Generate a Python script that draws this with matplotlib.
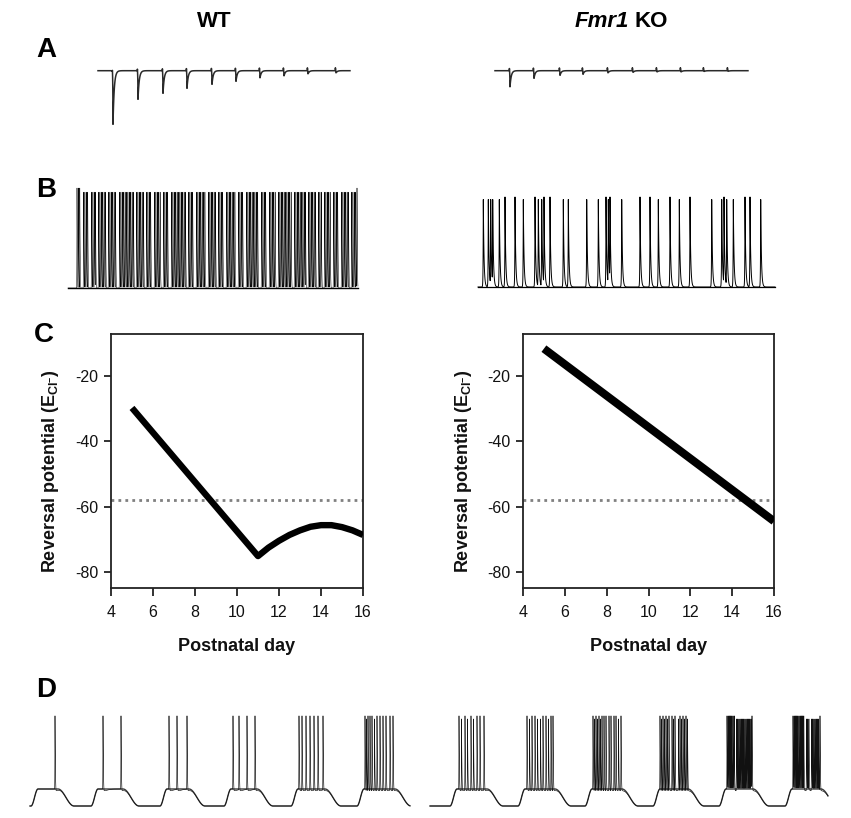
import numpy as np
import matplotlib
matplotlib.use("Agg")
import matplotlib.pyplot as plt
from matplotlib import font_manager

# ---------------- data ----------------
# Panel C: chloride reversal potential vs postnatal day
wt_days = [5, 11, 11.5, 12, 12.5, 13, 13.5, 14, 14.5, 15, 15.5, 16]
wt_ecl = [-29.7, -75.2, -72.6, -70.5, -68.7, -67.3, -66.2, -65.7, -65.7, -66.3, -67.3, -68.7]
ko_days = [5, 16]
ko_ecl = [-11.5, -64.5]
threshold_mv = -58
c_xticks = [4, 6, 8, 10, 12, 14, 16]
c_yticks = [-80, -60, -40, -20]

# Panel A: evoked currents (time s, amplitude pA)
a_wt_times = [0.15, 0.40, 0.65, 0.89, 1.14, 1.38, 1.62, 1.86, 2.10, 2.38]
a_wt_amps = [-540, -290, -230, -180, -140, -110, -75, -55, -35, -25]
a_ko_times = [0.15, 0.39, 0.65, 0.88, 1.13, 1.38, 1.62, 1.86, 2.09, 2.33]
a_ko_amps = [-165, -80, -50, -40, -25, -20, -15, -15, -10, -8]
a_wt_dur, a_ko_dur = 2.52, 2.53

# Panel B: firing (spike times, s)
b_wt_spikes = [
    0.090, 0.104, 0.118,
    0.155, 0.169, 0.183, 0.197,
    0.235, 0.249, 0.263, 0.275,
    0.305, 0.319, 0.333, 0.347, 0.361, 0.375,
    0.405, 0.419, 0.433, 0.447, 0.461, 0.475,
    0.515, 0.529, 0.543, 0.557, 0.571, 0.585, 0.599, 0.613, 0.627, 0.641, 0.655,
    0.685, 0.699, 0.713, 0.727, 0.741, 0.755,
    0.785, 0.799, 0.813, 0.827,
    0.865, 0.879, 0.893, 0.907, 0.921,
    0.955, 0.969, 0.983, 0.997,
    1.035, 1.049, 1.063, 1.077, 1.091, 1.105, 1.119, 1.133, 1.147, 1.161, 1.175,
    1.205, 1.219, 1.233, 1.247,
    1.285, 1.299, 1.313, 1.327, 1.341, 1.355, 1.369,
    1.405, 1.419, 1.433, 1.447, 1.461, 1.475,
    1.505, 1.519, 1.533, 1.547,
    1.585, 1.599, 1.613, 1.627, 1.641, 1.655, 1.669,
    1.705, 1.719, 1.733, 1.747,
    1.785, 1.799, 1.813, 1.827, 1.841, 1.855, 1.869, 1.883, 1.897,
    1.935, 1.949, 1.963, 1.977,
    2.015, 2.029, 2.043, 2.057, 2.071,
    2.105, 2.119, 2.133, 2.147, 2.161, 2.175, 2.189, 2.203, 2.217, 2.231,
    2.265, 2.279, 2.293, 2.307, 2.321, 2.335, 2.349, 2.363, 2.375,
    2.405, 2.419, 2.433, 2.447, 2.461, 2.475,
    2.505, 2.519, 2.533,
    2.565, 2.579, 2.593, 2.607, 2.621,
    2.655, 2.669, 2.683, 2.697,
    2.735, 2.749, 2.763, 2.777, 2.791, 2.805,
    2.835, 2.849, 2.863, 2.877, 2.890]
b_ko_spikes = [0.053, 0.103, 0.127, 0.147, 0.213, 0.27, 0.37, 0.453, 0.57, 0.603, 0.637, 0.66,
               0.72, 0.853, 0.903, 1.087, 1.203, 1.28, 1.303, 1.32, 1.437, 1.62, 1.72, 1.803,
               1.92, 2.013, 2.12, 2.337, 2.437, 2.46, 2.487, 2.553, 2.67, 2.72, 2.827]
b_wt_dur, b_ko_dur = 2.90, 2.97
b_rest_mv = -60
b_wt_amp, b_ko_amp = 80, 72

# Panel D: bursts riding on slow depolarisations
d_trough_mv, d_plateau_mv, d_spike_amp = -60, -50, 43
d_wt_windows = [(0.08, 0.28), (0.68, 0.93), (1.37, 1.59), (2.01, 2.27), (2.68, 2.95), (3.34, 3.65)]
d_wt_spikes = [0.25,
               0.73, 0.91,
               1.39, 1.47, 1.57,
               2.03, 2.09, 2.17, 2.25,
               2.69, 2.72, 2.76, 2.80, 2.84, 2.88, 2.93,
               3.35, 3.365, 3.38, 3.40, 3.42, 3.445, 3.47, 3.50, 3.53, 3.56, 3.60, 3.63]
d_ko_windows = [(0.27, 0.57), (0.95, 1.25), (1.62, 1.92), (2.30, 2.58), (2.96, 3.23), (3.62, 3.91)]
d_ko_spikes = [0.29, 0.315, 0.35, 0.375, 0.41, 0.435, 0.47, 0.50, 0.54,
               0.97, 0.995, 1.02, 1.05, 1.075, 1.105, 1.13, 1.16, 1.185, 1.21, 1.23,
               1.63, 1.645, 1.66, 1.675, 1.69, 1.705, 1.72, 1.74, 1.76, 1.79, 1.81, 1.84, 1.86, 1.885, 1.91,
               2.30, 2.315, 2.33, 2.345, 2.36, 2.375, 2.39, 2.42, 2.435, 2.45, 2.485, 2.50, 2.515,
               2.53, 2.545, 2.56, 2.575,
               2.97, 2.982, 2.994, 3.006, 3.018, 3.03, 3.042, 3.065, 3.077, 3.089, 3.101, 3.113,
               3.125, 3.137, 3.149, 3.161, 3.173, 3.185, 3.197, 3.209, 3.22,
               3.63, 3.642, 3.654, 3.666, 3.678, 3.69, 3.702, 3.714, 3.726, 3.738, 3.765, 3.777,
               3.789, 3.815, 3.827, 3.839, 3.851, 3.863, 3.875, 3.887, 3.90]
d_wt_dur, d_ko_dur = 3.80, 3.98

# ---------------- style ----------------
names = {f.name for f in font_manager.fontManager.ttflist}
FONT = "Liberation Sans" if "Liberation Sans" in names else "DejaVu Sans"
plt.rcParams["font.family"] = [FONT, "DejaVu Sans"]
plt.rcParams["path.simplify"] = False
plt.rcParams["mathtext.default"] = "regular"
plt.rcParams["axes.unicode_minus"] = False

W, H = 851, 818
fig = plt.figure(figsize=(W / 100, H / 100), dpi=100)
DT = 0.0004


def box(x0, y0, x1, y1):
    return [x0 / W, 1 - y1 / H, (x1 - x0) / W, (y1 - y0) / H]


def trace_ax(x0, x1, top, bot, dur, v1, p1, v2, p2):
    ax = fig.add_axes(box(x0, top, x1, bot))
    a = (p2 - p1) / (v2 - v1)
    b = p1 - a * v1
    ax.set_ylim((bot - b) / a, (top - b) / a)
    ax.set_xlim(0, dur)
    ax.set_axis_off()
    return ax


def kernel(t, ti, tr, td):
    d = t - ti
    return np.where(d < 0, np.exp(np.clip(d / tr, -60, 0)), np.exp(-np.clip(d / td, 0, 60)))


def tent(t, ti, wr, wd, p=2.0):
    # narrow tip, broad base, returns to rest within wr / wd
    d = t - ti
    u = np.where(d < 0, np.clip(1 + d / wr, 0, 1), np.clip(1 - d / wd, 0, 1))
    return u ** p


def spike_env(t, times, fn):
    k = np.zeros_like(t)
    for ti in times:
        k = np.maximum(k, fn(t, ti))
    return k


def ahp_env(t, times, ta):
    h = np.zeros_like(t)
    for ti in times:
        d = np.clip(t - ti, 0, None)
        h = np.maximum(h, (d / ta) * np.exp(1 - d / ta))
    return h


def plateau_wave(t, windows, rise, decay):
    w = np.zeros_like(t)
    for on, off in windows:
        r = np.clip((t - (on - rise)) / rise, 0, 1)
        f = np.clip((t - off) / decay, 0, 1)
        s = np.where(t < on, 0.5 - 0.5 * np.cos(np.pi * r), 0.5 + 0.5 * np.cos(np.pi * f))
        w = np.maximum(w, s)
    return w


# ---------------- Panel A ----------------
for (x0, x1, dur, times, amps) in [(98, 350, a_wt_dur, a_wt_times, a_wt_amps),
                                   (495, 748, a_ko_dur, a_ko_times, a_ko_amps)]:
    ax = trace_ax(x0, x1, 50, 135, dur, 0, 70.7, -100, 80.7)
    t = np.arange(0, dur, DT)
    v = np.zeros_like(t)
    for ti, a in zip(times, amps):
        v += a * kernel(t, ti, 0.002, 0.012)
        v += 30 * kernel(t, ti - 0.006, 0.001, 0.003)
    ax.plot(t, v, color="#2a2a2a", lw=1.1, clip_on=False)

# ---------------- Panel B ----------------
# WT: dense firing
ax = trace_ax(68, 358, 180, 295, b_wt_dur, b_rest_mv, 288, b_rest_mv + b_wt_amp, 188)
t = np.arange(0, b_wt_dur, DT)
k = spike_env(t, b_wt_spikes, lambda tt, ti: tent(tt, ti, 0.004, 0.012, 2.5))
ax.plot(t, b_rest_mv + b_wt_amp * k, color="#000000", lw=0.35, clip_on=False)
ax.plot([0, b_wt_dur], [b_rest_mv, b_rest_mv], color="#000000", lw=1.0, clip_on=False)
# KO: sparse firing
ax = trace_ax(478, 775, 185, 295, b_ko_dur, b_rest_mv, 287, b_rest_mv + b_ko_amp, 197)
t = np.arange(0, b_ko_dur, DT)
k = spike_env(t, b_ko_spikes, lambda tt, ti: kernel(tt, ti, 0.002, 0.007))
ax.plot(t, b_rest_mv + b_ko_amp * k, color="#000000", lw=0.7, clip_on=False)
ax.plot([0, b_ko_dur], [b_rest_mv, b_rest_mv], color="#000000", lw=0.9, clip_on=False)

# ---------------- Panel D ----------------
for (x0, x1, dur, windows, spikes) in [(30, 410, d_wt_dur, d_wt_windows, d_wt_spikes),
                                       (430, 828, d_ko_dur, d_ko_windows, d_ko_spikes)]:
    ax = trace_ax(x0, x1, 705, 815, dur, d_trough_mv, 806, d_plateau_mv, 789)
    t = np.arange(0, dur, DT)
    slow = d_trough_mv + (d_plateau_mv - d_trough_mv) * plateau_wave(t, windows, 0.07, 0.16)
    k = spike_env(t, spikes, lambda tt, ti: tent(tt, ti, 0.004, 0.012, 2.5))
    ahp = ahp_env(t, spikes, 0.02)
    v = slow - 1.0 * ahp * (1 - k) + d_spike_amp * k
    ax.plot(t, slow, color="#3a3a3a", lw=1.0, clip_on=False)
    ax.plot(t, v, color="#111111", lw=0.45, clip_on=False)

# ---------------- Panel C ----------------
for (x0, x1, days, ecl, lw) in [(111, 363, wt_days, wt_ecl, 4.6),
                                (523, 774, ko_days, ko_ecl, 5.8)]:
    ax = fig.add_axes(box(x0, 334, x1, 588))
    ax.axhline(threshold_mv, color="#808080", lw=2, ls=(0, (1, 1.5)), zorder=1)
    ax.plot(days, ecl, color="black", lw=lw, solid_capstyle="butt",
            solid_joinstyle="round", zorder=3)
    ax.set_xlim(4, 16)
    ax.set_ylim(-85, -7)
    ax.set_xticks(c_xticks)
    ax.set_yticks(c_yticks)
    for s in ax.spines.values():
        s.set_linewidth(1.3)
        s.set_color("#222222")
    ax.tick_params(direction="out", length=5.4, width=1.3, color="#222222",
                   labelsize=11.5, labelcolor="#111111")
    ax.tick_params(axis="x", pad=6.5)
    ax.tick_params(axis="y", pad=3.5)
    cx = (x0 + x1) / 2
    fig.text(cx / W, 1 - 651 / H, "Postnatal day", ha="center", va="baseline",
             fontsize=13, fontweight="bold", color="#111111")
    fig.text((x0 - 60) / W, 1 - 471 / H, r"Reversal potential (E$_{Cl^{-}}$)",
             rotation=90, ha="center", va="center", fontsize=13, fontweight="bold",
             color="#111111")

# ---------------- titles & panel letters ----------------
fig.text(214 / W, 1 - 27 / H, "WT", ha="center", va="baseline", fontsize=16, fontweight="bold")
fig.text(629 / W, 1 - 27 / H, "Fmr1", ha="right", va="baseline", fontsize=16,
         fontweight="bold", style="italic")
fig.text(635 / W, 1 - 27 / H, "KO", ha="left", va="baseline", fontsize=16, fontweight="bold")
for letter, (lx, ly) in {"A": (46, 57), "B": (46, 197), "C": (44, 342), "D": (46, 697)}.items():
    fig.text(lx / W, 1 - ly / H, letter, ha="center", va="baseline", fontsize=20,
             fontweight="bold")

fig.savefig("out.png", dpi=100, facecolor="white")
